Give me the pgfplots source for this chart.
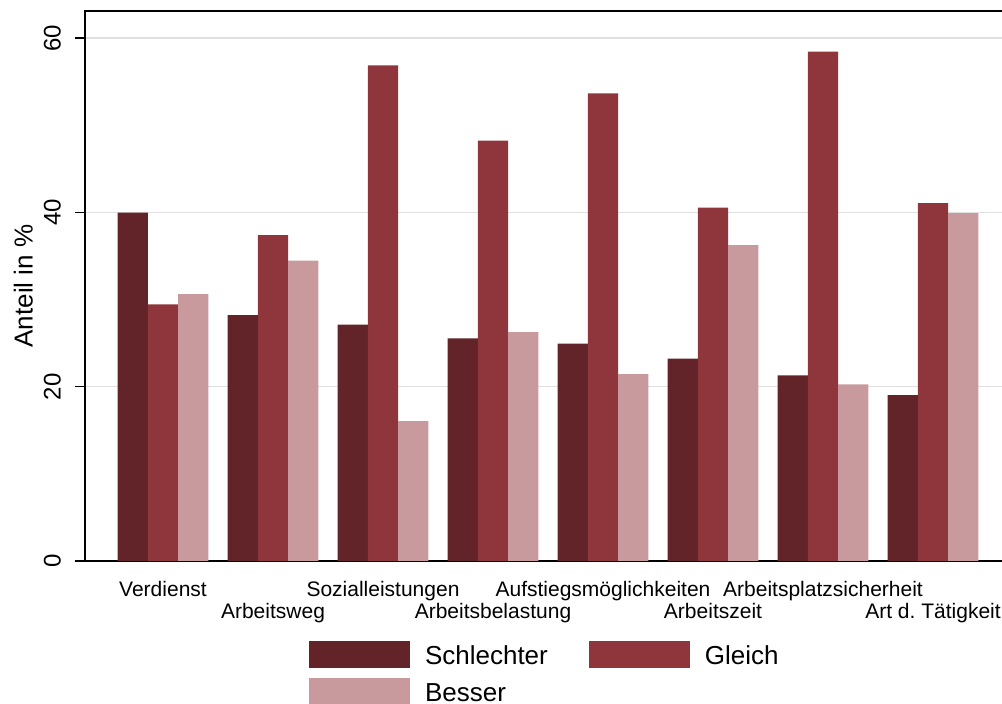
\documentclass[border=0pt]{standalone}
\usepackage{pgfplots}
\pgfplotsset{compat=1.18}
\usepackage{fontspec}
\setmainfont{Liberation Sans}
\definecolor{cS}{RGB}{98,35,41}
\definecolor{cG}{RGB}{143,53,60}
\definecolor{cB}{RGB}{200,153,157}
\definecolor{gridc}{RGB}{224,224,224}
\pgfplotsset{
  mylegend/.style={legend image code/.code={\fill[##1,draw=none] (0pt,-13.5pt) rectangle (101pt,13.5pt);}},
}
\begin{document}
\begin{tikzpicture}
\begin{axis}[
  name=ax,
  at={(0,0)}, anchor=south west,
  scale only axis,
  clip=false,
  width=920pt, height=550pt,
  xmin=-0.7091, xmax=7.6545,
  ymin=0, ymax=63.1,
  xtick={0,1,2,3,4,5,6,7},
  xticklabels={
    {\strut Verdienst},
    {\strut\\\strut Arbeitsweg},
    {\strut Sozialleistungen},
    {\strut\\\strut Arbeitsbelastung},
    {\strut Aufstiegsmöglichkeiten},
    {\strut\\\strut Arbeitszeit},
    {\strut Arbeitsplatzsicherheit},
    {\strut\\\strut Art d.\ Tätigkeit}},
  xticklabel style={align=center, font=\fontsize{21}{22}\selectfont, inner sep=0pt, anchor=north, yshift=-10pt},
  xtick style={draw opacity=0},
  ytick={0,20,40,60},
  /pgf/number format/assume math mode=true,
  yticklabel style={rotate=90, anchor=south, inner sep=0pt, font=\fontsize{24}{26}\selectfont},
  yticklabel shift=14pt,
  ytick style={black, line width=1.2pt},
  ytick pos=left,
  tick align=outside,
  major tick length=10pt,
  ymajorgrids,
  grid style={gridc, line width=1.5pt},
  axis line style={black, line width=1.3pt},
  ylabel={Anteil in \%},
  ylabel style={at={(axis description cs:-0.0565,0.5)}, rotate=0, anchor=south, inner sep=0pt, font=\fontsize{26}{28}\selectfont},
  legend columns=2,
  legend style={
    at={(axis description cs:0.2435,-0.1455)}, anchor=north west,
    draw=none, inner sep=0pt, outer sep=0pt,
    font=\fontsize{26}{28}\selectfont,
    nodes={inner sep=0pt, text height=19pt, text depth=0pt},
    row sep=10pt,
    /tikz/every odd column/.append style={column sep=15pt},
    /tikz/every even column/.append style={column sep=41pt},
  },
  legend cell align=left,
]
\addplot[ybar, bar width=0.275, fill=cS, draw=none, bar shift=-0.275, mylegend] coordinates {
 (0,39.96) (1,28.22) (2,27.11) (3,25.55) (4,24.93) (5,23.21) (6,21.30) (7,19.04)};
\addlegendentry{Schlechter}
\addplot[ybar, bar width=0.275, fill=cG, draw=none, bar shift=0, mylegend] coordinates {
 (0,29.45) (1,37.40) (2,56.87) (3,48.22) (4,53.65) (5,40.53) (6,58.43) (7,41.07)};
\addlegendentry{Gleich}
\addplot[ybar, bar width=0.275, fill=cB, draw=none, bar shift=0.275, mylegend] coordinates {
 (0,30.63) (1,34.45) (2,16.06) (3,26.27) (4,21.45) (5,36.25) (6,20.27) (7,39.92)};
\addlegendentry{Besser}
\draw[black, line width=1.2pt] (axis cs:-0.7091,0) -- ([xshift=-10pt]axis cs:-0.7091,0);
\draw[black, line width=1.2pt] (axis cs:-0.7091,20) -- ([xshift=-10pt]axis cs:-0.7091,20);
\draw[black, line width=1.2pt] (axis cs:-0.7091,40) -- ([xshift=-10pt]axis cs:-0.7091,40);
\draw[black, line width=1.2pt] (axis cs:-0.7091,60) -- ([xshift=-10pt]axis cs:-0.7091,60);
\end{axis}
\pgfresetboundingbox
\path[use as bounding box] (-85pt,-143pt) rectangle (917pt,561pt);
\end{tikzpicture}
\end{document}
